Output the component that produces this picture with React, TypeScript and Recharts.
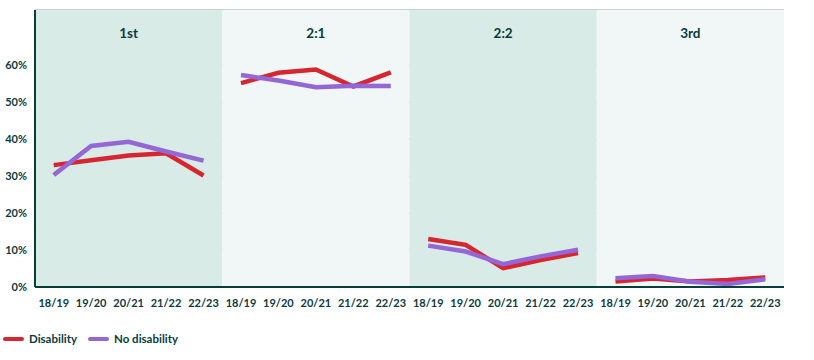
import React from "react";
import {
  LineChart,
  Line,
  XAxis,
  YAxis,
  CartesianGrid,
  ReferenceArea,
  Legend,
} from "recharts";

const YEARS = ["18/19", "19/20", "20/21", "21/22", "22/23"];
const CLASSES = ["1st", "2:1", "2:2", "3rd"];

// % of graduates per degree class, by academic year
const DISABILITY_1ST = [33.0, 34.3, 35.6, 36.2, 30.2];
const DISABILITY_21 = [55.2, 58.0, 58.9, 54.3, 58.1];
const DISABILITY_22 = [13.0, 11.4, 5.1, 7.3, 9.2];
const DISABILITY_3RD = [1.5, 2.3, 1.5, 1.9, 2.6];

const NO_DISABILITY_1ST = [30.3, 38.2, 39.3, 36.7, 34.2];
const NO_DISABILITY_21 = [57.4, 55.9, 54.1, 54.5, 54.4];
const NO_DISABILITY_22 = [11.2, 9.6, 6.2, 8.3, 10.1];
const NO_DISABILITY_3RD = [2.4, 3.0, 1.4, 0.8, 2.1];

const Y_TICKS = [0, 10, 20, 30, 40, 50, 60];

const DISABILITY = [DISABILITY_1ST, DISABILITY_21, DISABILITY_22, DISABILITY_3RD];
const NO_DISABILITY = [NO_DISABILITY_1ST, NO_DISABILITY_21, NO_DISABILITY_22, NO_DISABILITY_3RD];

const RED = "#d7262f";
const PURPLE = "#9466d6";
const INK = "#0b3b3c";
const PANEL_BG = ["#d8ebe7", "#f0f7f6", "#d8ebe7", "#f0f7f6"];
const FONT = "Lato, 'Noto Sans', sans-serif";

// one row per (class, year); each class gets its own pair of series so lines break between panels
const rows = CLASSES.flatMap((c, ci) =>
  YEARS.map((y, yi) => ({
    key: `${c}|${y}`,
    year: y,
    [`d${ci}`]: DISABILITY[ci][yi],
    [`n${ci}`]: NO_DISABILITY[ci][yi],
  })),
);

function LegendContent() {
  const items = [
    { label: "Disability", color: RED },
    { label: "No disability", color: PURPLE },
  ];
  return (
    <div style={{ display: "flex", alignItems: "center", fontFamily: FONT, fontWeight: 700, fontSize: 11.5, color: INK }}>
      {items.map((it) => (
        <div key={it.label} style={{ display: "flex", alignItems: "center", marginRight: 11 }}>
          <span style={{ display: "inline-block", width: 21, height: 4, borderRadius: 2, background: it.color, marginRight: 5 }} />
          {it.label}
        </div>
      ))}
    </div>
  );
}

export default function App() {
  return (
    <div style={{ position: "absolute", left: 0, top: 0, width: 814, height: 360, background: "#fff" }}>
      <LineChart width={814} height={360} data={rows} margin={{ top: 10, right: 30, left: 0, bottom: 43 }}>
        {CLASSES.map((c, ci) => (
          <ReferenceArea
            key={c}
            x1={`${c}|${YEARS[0]}`}
            x2={`${c}|${YEARS[YEARS.length - 1]}`}
            y1={0}
            y2={75}
            ifOverflow="visible"
            fill={PANEL_BG[ci]}
            fillOpacity={1}
            stroke="none"
            label={{ value: c, position: "insideTop", offset: 18, fill: INK, fontSize: 13.5, fontWeight: 700, fontFamily: FONT }}
          />
        ))}
        <CartesianGrid vertical={false} stroke="#b1c6c1" strokeWidth={1.5} />
        <XAxis
          dataKey="key"
          scale="band"
          interval={0}
          height={30}
          tickLine={false}
          tickMargin={6}
          axisLine={{ stroke: "#063f3a", strokeWidth: 2 }}
          tickFormatter={(v: string) => v.split("|")[1]}
          tick={{ fill: INK, fontSize: 11, fontWeight: 700, fontFamily: FONT }}
        />
        <YAxis
          width={35}
          domain={[0, 75]}
          ticks={Y_TICKS}
          tickLine={false}
          axisLine={{ stroke: "#063f3a", strokeWidth: 2 }}
          tickFormatter={(v: number) => `${v}%`}
          tick={{ fill: INK, fontSize: 11, fontWeight: 700, fontFamily: FONT }}
        />
        {CLASSES.map((c, ci) => (
          <Line
            key={`d${ci}`}
            dataKey={`d${ci}`}
            type="linear"
            stroke={RED}
            strokeWidth={4.5}
            dot={false}
            activeDot={false}
            isAnimationActive={false}
            legendType="none"
          />
        ))}
        {CLASSES.map((c, ci) => (
          <Line
            key={`n${ci}`}
            dataKey={`n${ci}`}
            type="linear"
            stroke={PURPLE}
            strokeWidth={4.5}
            dot={false}
            activeDot={false}
            isAnimationActive={false}
            legendType="none"
          />
        ))}
        <Legend
          layout="horizontal"
          verticalAlign="middle"
          align="center"
          content={() => <LegendContent />}
          wrapperStyle={{ top: 332, left: 3, width: "auto" }}
        />
      </LineChart>
    </div>
  );
}
